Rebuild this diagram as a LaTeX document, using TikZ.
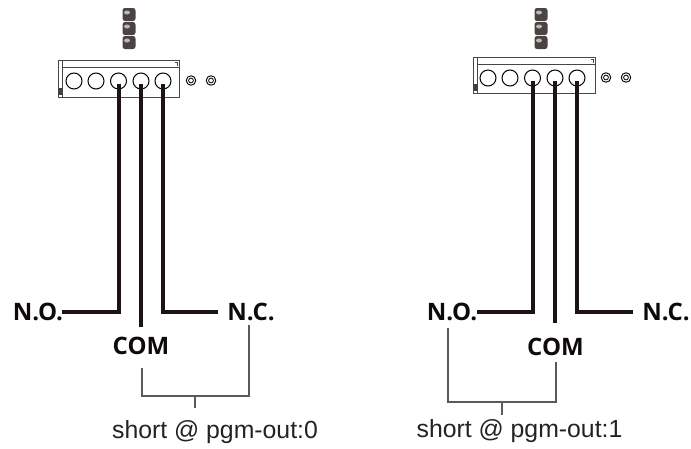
\documentclass[tikz,border=0pt]{standalone}
\usepackage{fontspec}
\setmainfont{Liberation Sans}
\setsansfont{Open Sans}
\begin{document}
\begin{tikzpicture}[x=1pt,y=-1pt,
  wire/.style={line width=4pt,draw={rgb,255:red,28;green,20;blue,20},line cap=butt,line join=miter},
  bracket/.style={line width=1.1pt,draw={rgb,255:red,95;green,88;blue,88}},
  blockline/.style={line width=0.9pt,draw={rgb,255:red,70;green,70;blue,70}},
  term/.style={circle,draw=black,line width=1pt,fill=white,minimum size=16pt,inner sep=0pt},
  ring/.style={circle,draw=black,line width=0.9pt,fill=white,minimum size=9.5pt,inner sep=0pt},
  lbl/.style={font=\sffamily\bfseries\fontsize{24}{28}\selectfont,inner sep=0pt,text={rgb,255:red,15;green,10;blue,10}},
  note/.style={font=\fontsize{24.8}{28}\selectfont,inner sep=0pt,anchor=base,text={rgb,255:red,35;green,35;blue,35}},
  jump/.style={rounded corners=2.5pt,fill={rgb,255:red,75;green,66;blue,66}}]
\useasboundingbox (0,0) rectangle (691,448);

% ---------- left diagram ----------
\foreach \y in {8,22,36}{
  \fill[jump] (122.5,\y) rectangle (135.5,\y+13);
  \fill[gray!55] (127,\y+4.5) ellipse (3pt and 2pt);
}
\draw[blockline] (58,60) rectangle (179,97);
\draw[blockline] (62,60) -- (62,97);
\draw[blockline] (62,67) -- (179,67);
\draw[blockline] (175,62) -- (177,62) -- (177,66);
\fill[black!75] (58,88) rectangle (62,95);
\foreach \i/\x in {1/74,2/96,3/118.5,4/141,5/163}{
  \node[term] (lt\i) at (\x,81) {};
}
\node[ring] (lr1) at (191,80.5) {};
\node[ring] (lr2) at (211,80.5) {};
\draw[line width=0.8pt] (lr1) circle (2.4pt);
\draw[line width=0.8pt] (lr2) circle (2.4pt);
\node[lbl] (lno) at (38,312) {N.O.};
\node[lbl] (lcom) at (141,346) {COM};
\node[lbl] (lnc) at (251,312) {N.C.};
\node[note] (lshort) at (215,438) {short @ pgm-out:0};
\coordinate (lnoend) at (62,312);
\coordinate (lncend) at (218,312);
\coordinate (lcomend) at (141,327);
\draw[wire] ([yshift=-3pt]lt3.center) -- (lt3.center |- lnoend) -- (lnoend);
\draw[wire] ([yshift=-3pt]lt4.center) -- (lt4.center |- lcomend);
\draw[wire] ([yshift=-3pt]lt5.center) -- (lt5.center |- lncend) -- (lncend);
\coordinate (lb1) at (142,368);
\coordinate (lb2) at (249,325);
\coordinate (lbt) at (195,408);
\draw[bracket] (lb1) -- (142,396) -- (249,396) -- (lb2);
\draw[bracket] (195,396) -- (lbt);

% ---------- right diagram ----------
\foreach \y in {8,22,36}{
  \fill[jump] (534.5,\y) rectangle (547.5,\y+13);
  \fill[gray!55] (539,\y+4.5) ellipse (3pt and 2pt);
}
\draw[blockline] (473,57) rectangle (595,93);
\draw[blockline] (477,57) -- (477,93);
\draw[blockline] (477,64) -- (595,64);
\draw[blockline] (591,59) -- (593,59) -- (593,63);
\fill[black!75] (473,84) rectangle (477,91);
\foreach \i/\x in {1/488,2/510,3/532.5,4/555,5/577}{
  \node[term] (rt\i) at (\x,78) {};
}
\node[ring] (rr1) at (606,77.5) {};
\node[ring] (rr2) at (626,77.5) {};
\draw[line width=0.8pt] (rr1) circle (2.4pt);
\draw[line width=0.8pt] (rr2) circle (2.4pt);
\node[lbl] (rno) at (452,312) {N.O.};
\node[lbl] (rcom) at (555.5,347) {COM};
\node[lbl] (rnc) at (666,312) {N.C.};
\node[note] (rshort) at (519.5,437) {short @ pgm-out:1};
\coordinate (rnoend) at (477,312);
\coordinate (rncend) at (633,312);
\coordinate (rcomend) at (555,323);
\draw[wire] ([yshift=-3pt]rt3.center) -- (rt3.center |- rnoend) -- (rnoend);
\draw[wire] ([yshift=-3pt]rt4.center) -- (rt4.center |- rcomend);
\draw[wire] ([yshift=-3pt]rt5.center) -- (rt5.center |- rncend) -- (rncend);
\coordinate (rb1) at (448,328);
\coordinate (rb2) at (556,362);
\coordinate (rbt) at (502,415);
\draw[bracket] (rb1) -- (448,402) -- (556,402) -- (rb2);
\draw[bracket] (502,402) -- (rbt);
\end{tikzpicture}
\end{document}
